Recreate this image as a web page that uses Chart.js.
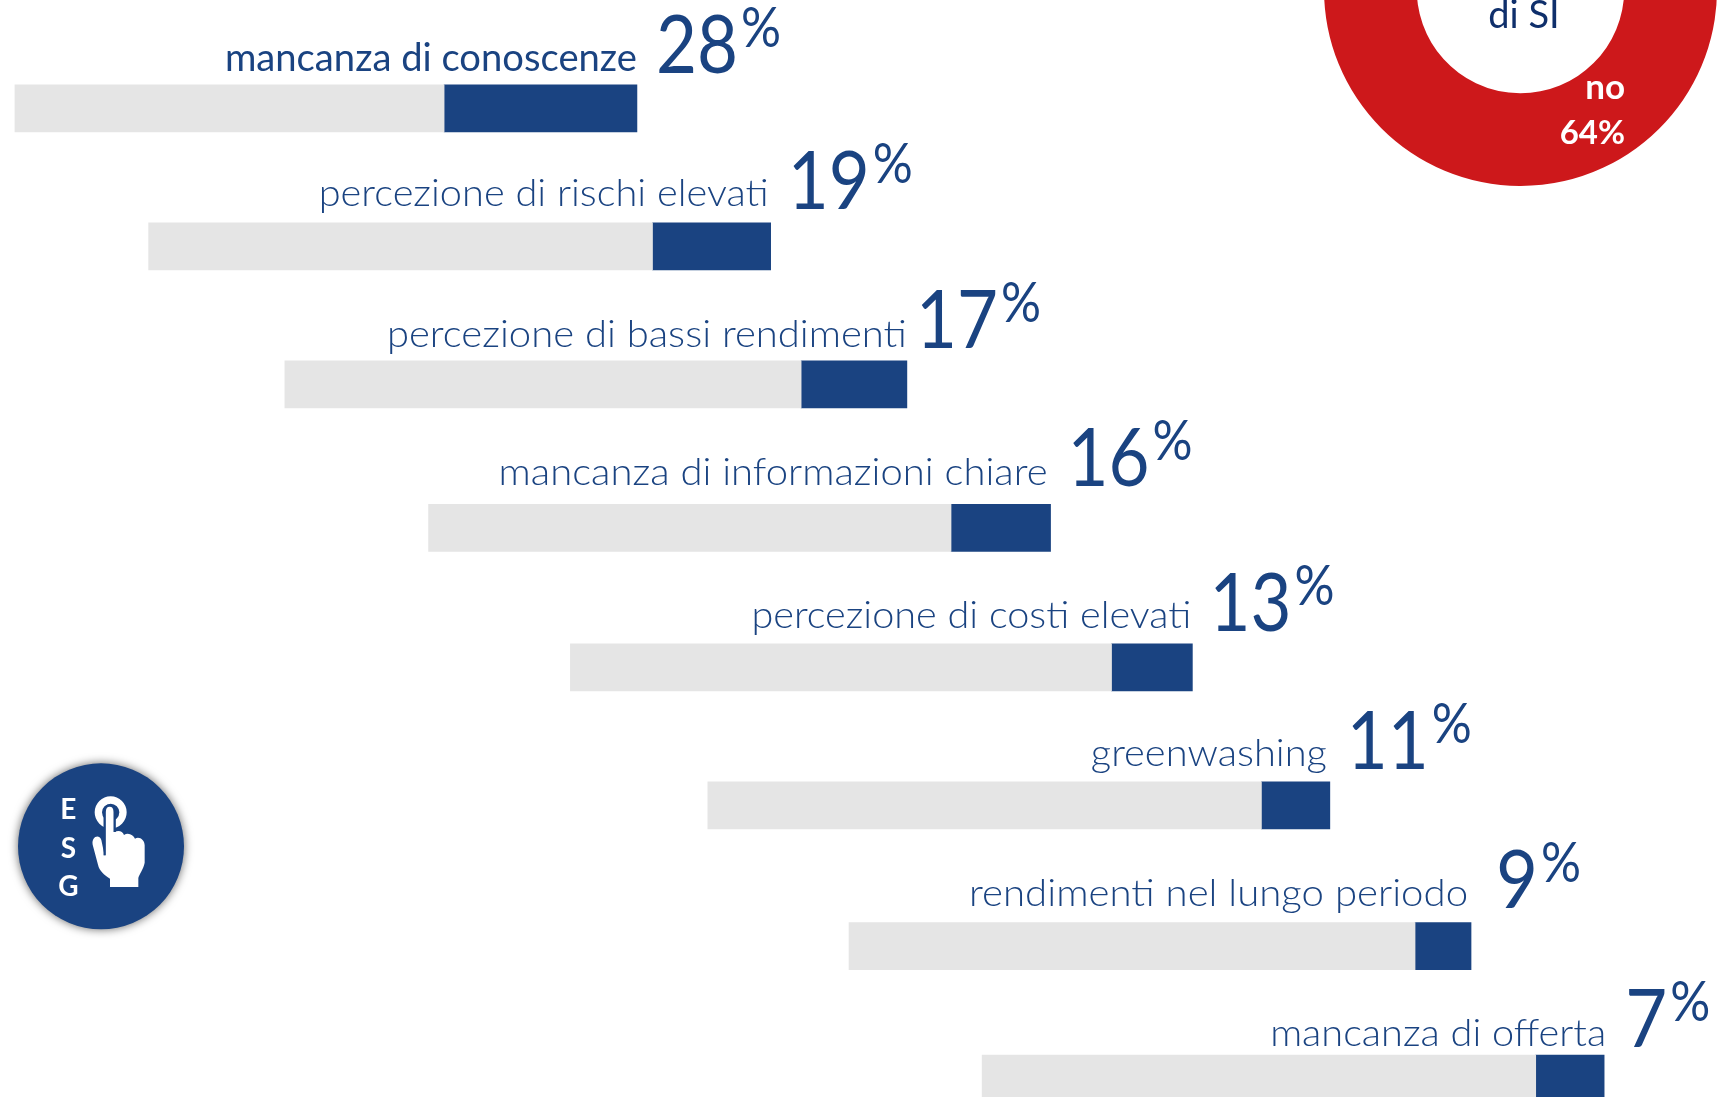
<!DOCTYPE html>
<html lang="it">
<head>
<meta charset="utf-8">
<title>Motivi</title>
<script src="https://cdn.jsdelivr.net/npm/chart.js@4"></script>
<style>
html,body{margin:0;padding:0;background:#fff;width:1724px;height:1097px;overflow:hidden}
canvas{position:absolute;display:block}
#main{left:0;top:0}
#donut{left:1324px;top:-207px}
#esg{position:absolute;left:0;top:750px;width:200px;height:190px;overflow:visible}
</style>
</head>
<body>
<canvas id="main" width="1724" height="1097"></canvas>
<canvas id="donut" width="393" height="393"></canvas>
<svg id="esg" viewBox="0 0 600 570">
  <circle cx="303" cy="289" r="249" fill="#1A4381" style="filter:drop-shadow(0 0 14px rgba(0,0,0,.6))"/>
  <g fill="#fff" font-family="Lato" font-weight="700" font-size="84" text-anchor="middle">
    <text x="205" y="208">E</text>
    <text x="205" y="323">S</text>
    <text x="205" y="437">G</text>
  </g>
  <circle cx="332" cy="187" r="37" fill="none" stroke="#fff" stroke-width="22"/>
  <path d="M314 186 C314 160 344 160 344 186 L344 246 C356 240 368 244 372 255 C384 246 400 254 405 266 C418 258 434 270 434 286 L434 338 C430 358 418 372 415 384 L415 411 L330 411 L330 386 C312 374 298 362 294 344 L278 284 C274 262 296 250 304 270 L314 318 Z" fill="#fff" stroke="#1A4381" stroke-width="0"/>
  <path d="M314 186 C314 160 344 160 344 186 L344 246" fill="none" stroke="#1A4381" stroke-width="7"/>
  <path d="M314 186 L314 316" fill="none" stroke="#1A4381" stroke-width="7"/>
</svg>
<script>
// ---- data ----
const categories = ['mancanza di conoscenze','percezione di rischi elevati','percezione di bassi rendimenti','mancanza di informazioni chiare','percezione di costi elevati','greenwashing','rendimenti nel lungo periodo','mancanza di offerta'];
const percentLabels = [28,19,17,16,13,11,9,7];
const blueLengths = [31,19,17,16,13,11,9,11];   // drawn length of each blue segment
const rowOffsets = [2.4,23.9,45.8,68.9,91.7,113.8,136.5,157.9]; // stagger of each track
const rowSlots = [1,1.99,2.98,4.01,5.01,6,7.01,7.96];
const trackLength = 100;
const donutLabels = ['no','si'];
const donutValues = [64,36];

// ---- layout and style ----
const BLUE='#1A4381', GREY='#E5E5E5', RED='#CD181B', NAVY='#0F2F6B';
const labelWidths=[412,450,520,549,440,236,499,336];
const labelLift=[14,17,14,19,16,16,17,9];
const labelShift=[0,-2,0,-3,-1,-3,-3,2];
const numberGap=[19,17,9,17,17,17,25,21];
const numberLift=[12,14,13,18,13,13,15,8];
const BAR_H=47;

const textPlugin={
  id:'rowText',
  afterDatasetsDraw(chart){
    const {ctx,scales:{x,y}}=chart;
    ctx.save();
    ctx.fillStyle=BLUE;
    ctx.textBaseline='alphabetic';
    categories.forEach((c,i)=>{
      const end=x.getPixelForValue(rowOffsets[i]+trackLength);
      const top=y.getPixelForValue(rowSlots[i])-BAR_H/2;
      // category text, fitted to its width
      ctx.font=(i===0?'400':'300')+' 38px Lato';
      const m=ctx.measureText(c).width, sx=labelWidths[i]/m;
      const right=end+labelShift[i], base=top-labelLift[i];
      ctx.save();ctx.translate(right,base);ctx.scale(sx,1);ctx.textAlign='right';ctx.fillText(c,0,0);ctx.restore();
      // big number + superscript percent
      const left=end+numberGap[i], nb=top-numberLift[i];
      ctx.font='400 82px Lato';
      const s=String(percentLabels[i]);
      const nw=ctx.measureText(s).width, nsx=(s.length>1?82:42)/nw;
      ctx.save();ctx.translate(left,nb);ctx.scale(nsx,1);ctx.textAlign='left';ctx.fillText(s,0,0);ctx.restore();
      ctx.font='400 56px Lato';
      const pw=ctx.measureText('%').width;
      ctx.save();ctx.translate(left+nw*nsx+3,nb-26);ctx.scale(40/pw,1);ctx.textAlign='left';ctx.fillText('%',0,0);ctx.restore();
    });
    ctx.restore();
  }
};

new Chart(document.getElementById('main'),{
  type:'bar',
  data:{datasets:[
    {label:'totale',data:categories.map((c,i)=>({y:rowSlots[i],x:[rowOffsets[i],rowOffsets[i]+trackLength-blueLengths[i]]})),backgroundColor:GREY,barThickness:BAR_H,grouped:false},
    {label:'percentuale',data:categories.map((c,i)=>({y:rowSlots[i],x:[rowOffsets[i]+trackLength-blueLengths[i],rowOffsets[i]+trackLength]})),backgroundColor:BLUE,barThickness:BAR_H,grouped:false}
  ]},
  options:{
    indexAxis:'y',responsive:false,animation:false,
    layout:{padding:0},
    plugins:{legend:{display:false},tooltip:{enabled:false},title:{display:false}},
    scales:{
      x:{type:'linear',min:0,max:277.17,display:false},
      y:{type:'linear',reverse:true,offset:false,min:0.223,max:8.092,display:false}
    }
  },
  plugins:[textPlugin]
});

const donutText={
  id:'donutText',
  afterDatasetsDraw(chart){
    const ctx=chart.ctx;
    ctx.save();
    ctx.textBaseline='alphabetic';
    ctx.textAlign='center';
    ctx.fillStyle=NAVY;
    ctx.font='400 38px Lato';
    ctx.fillText('di SI',200,235);
    ctx.textAlign='right';
    ctx.fillStyle='#fff';
    ctx.font='700 35px Lato';
    ctx.fillText(donutLabels[0],301,306);
    ctx.font='700 33px Lato';
    ctx.fillText(donutValues[0]+'%',301,351);
    ctx.restore();
  }
};
new Chart(document.getElementById('donut'),{
  type:'doughnut',
  data:{labels:donutLabels,datasets:[{data:donutValues,backgroundColor:[RED,BLUE],borderWidth:0}]},
  options:{
    responsive:false,animation:false,rotation:65,cutout:'52.8%',
    layout:{padding:0},
    plugins:{legend:{display:false},tooltip:{enabled:false},title:{display:false}}
  },
  plugins:[donutText]
});
</script>
</body>
</html>
